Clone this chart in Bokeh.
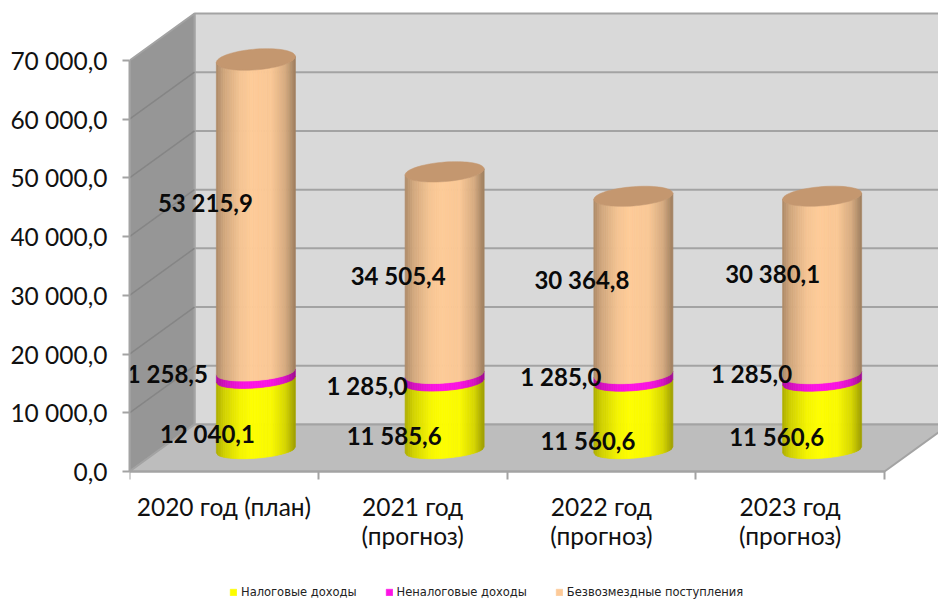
from bokeh.plotting import figure
from bokeh.models import (Range1d, LinearAxis, FixedTicker, Legend, LegendItem, ColumnDataSource)
from bokeh.core.properties import value
from bokeh.embed import file_html
from bokeh.resources import INLINE
import math

# ---- data ----
categories = ["2020 год (план)", "2021 год\n(прогноз)", "2022 год\n(прогноз)", "2023 год\n(прогноз)"]
tax_income = [12040.1, 11585.6, 11560.6, 11560.6]
nontax_income = [1258.5, 1285.0, 1285.0, 1285.0]
grants = [53215.9, 34505.4, 30364.8, 30380.1]
series_names = ["Налоговые доходы", "Неналоговые доходы", "Безвозмездные поступления"]
y_ticks = [0, 10000, 20000, 30000, 40000, 50000, 60000, 70000]
y_tick_labels = ["0,0", "10 000,0", "20 000,0", "30 000,0", "40 000,0", "50 000,0", "60 000,0", "70 000,0"]
tax_labels = ["12 040,1", "11 585,6", "11 560,6", "11 560,6"]
nontax_labels = ["1 258,5", "1 285,0", "1 285,0", "1 285,0"]
grant_labels = ["53 215,9", "34 505,4", "30 364,8", "30 380,1"]

# ---- label nudges (screen px) ----
tax_off = [(-48.5, 19), (-50.5, 19.5), (-45.5, 24), (-45.5, 20)]
nontax_off = [(-88.5, -2), (-77.5, 7), (-72.5, -2), (-70.5, -5)]
grant_off = [(-50.5, -13), (-46.5, 2), (-51.5, -6), (-49.5, -12)]

# ---- layout / projection ----
W, H = 938, 600
LEFT = 129
AXIS_PY = 471            # picture row of value 0
X_PX = 188.75            # px per category
Y_PX = 411 / 70000       # px per value unit
X_END = (W - LEFT) / X_PX
Y_END = AXIS_PY / Y_PX
Y_START = -(H - AXIS_PY) / Y_PX
DX = 65 / X_PX           # depth of the box
DY = 47 / Y_PX
CX = 32 / X_PX           # depth position of the cylinders
CY = 21.5 / Y_PX
RX = 39.5 / X_PX         # cylinder radii
RY_LOW = 8.2 / Y_PX
RY_HIGH = 10.5 / Y_PX
SHEAR = 3 / Y_PX
N = 44

YELLOW, MAGENTA, PEACH = (255, 255, 0), (255, 20, 230), (255, 204, 153)
TOP_PEACH = "#c4976f"
WALL, SIDE, FLOOR = "#d9d9d9", "#969696", "#bdbdbd"
EDGE, SIDE_EDGE = "#a3a3a3", "#858585"

p = figure(width=W, height=H, output_backend="svg", toolbar_location=None,
           x_range=Range1d(0, X_END), y_range=Range1d(Y_START, Y_END),
           min_border_left=LEFT, min_border_bottom=0, min_border_top=0, min_border_right=0,
           x_axis_type=None, y_axis_type=None, outline_line_color=None,
           background_fill_color="white", border_fill_color="white")
p.grid.visible = False

# walls and floor
ymax = y_ticks[-1]
p.patch([DX, X_END + 1, X_END + 1, DX], [DY, DY, DY + ymax, DY + ymax],
        fill_color=WALL, line_color=EDGE, line_width=2)
p.patch([0, DX, DX, 0], [0, DY, DY + ymax, ymax], fill_color=SIDE, line_color=EDGE, line_width=2)
grid = y_ticks[1:-1]
p.segment([DX] * len(grid), [g + DY for g in grid], [X_END + 1] * len(grid), [g + DY for g in grid],
          line_color=EDGE, line_width=2)
p.segment([0] * len(grid), grid, [DX] * len(grid), [g + DY for g in grid],
          line_color=SIDE_EDGE, line_width=1.5)
p.patch([0, DX, 4 + DX, 4], [0, DY, DY, 0], fill_color=FLOOR, line_color=EDGE, line_width=2)


def shade(rgb, u):
    stops = [(0, .68), (.1, .82), (.3, .96), (.45, 1), (.7, .98), (.88, .84), (1, .62)]
    for (a, fa), (b, fb) in zip(stops, stops[1:]):
        if u <= b:
            f = fa + (fb - fa) * (u - a) / (b - a)
            break
    return "#%02x%02x%02x" % tuple(int(c * f) for c in rgb)


def radius_y(level):
    return RY_LOW + (RY_HIGH - RY_LOW) * level / ymax


def arc(u, level):
    c = 2 * u - 1
    return SHEAR * c - radius_y(level) * math.sqrt(max(0, 1 - c * c))


series_values = [tax_income, nontax_income, grants]
series_rgb = [YELLOW, MAGENTA, PEACH]
strips = [dict(xs=[], ys=[], cols=[]) for _ in series_rgb]
top_x, top_y = [], []
for i in range(len(categories)):
    cx = i + 0.5 + CX
    base = 0
    for s, rgb in enumerate(series_rgb):
        val = series_values[s][i]
        lo, hi = base + CY, base + val + CY
        for k in range(N):
            u0, u1 = k / N, (k + 1) / N
            x0, x1 = cx - RX + 2 * RX * u0, cx - RX + 2 * RX * u1
            strips[s]["xs"].append([x0, x1, x1, x0])
            strips[s]["ys"].append([lo + arc(u0, base), lo + arc(u1, base),
                                    hi + arc(u1, base + val), hi + arc(u0, base + val)])
            strips[s]["cols"].append(shade(rgb, (u0 + u1) / 2))
        base += val
    angles = [2 * math.pi * j / 72 for j in range(72)]
    top_x.append([cx + RX * math.cos(a) for a in angles])
    top_y.append([base + CY + SHEAR * math.cos(a) + radius_y(base) * math.sin(a) for a in angles])

series_renderers = [p.patches(d["xs"], d["ys"], fill_color=d["cols"], line_color=d["cols"], line_width=0.7)
                    for d in strips]
p.patches(top_x, top_y, fill_color=TOP_PEACH, line_color=TOP_PEACH, line_width=0.5)

# axes
yax = LinearAxis(ticker=FixedTicker(ticks=y_ticks), bounds=(0, ymax),
                 major_label_overrides=dict(zip(y_ticks, y_tick_labels)))
yax.axis_line_color = EDGE
yax.axis_line_width = 2
yax.major_tick_line_color = EDGE
yax.major_tick_line_width = 2
yax.major_tick_in = 0
yax.major_tick_out = 7
yax.minor_tick_line_color = None
yax.major_label_standoff = 15
yax.major_label_text_font = "Lato"
yax.major_label_text_font_size = "24.5px"
yax.major_label_text_color = "#111111"
p.add_layout(yax, "left")

centers = [i + 0.5 for i in range(len(categories))]
borders = list(range(len(categories) + 1))
xax = LinearAxis(ticker=FixedTicker(ticks=centers, minor_ticks=borders), bounds=(0, len(categories)),
                 major_label_overrides=dict(zip(centers, categories)), fixed_location=0)
xax.axis_line_color = EDGE
xax.axis_line_width = 2
xax.major_tick_line_color = None
xax.major_tick_in = 0
xax.major_tick_out = 8
xax.minor_tick_line_color = EDGE
xax.minor_tick_line_width = 2
xax.minor_tick_in = 0
xax.minor_tick_out = 8
xax.major_label_standoff = 12
xax.major_label_text_font = "Lato"
xax.major_label_text_font_size = "24.5px"
xax.major_label_text_color = "#111111"
xax.major_label_text_line_height = 1.0
xax.major_label_orientation = "horizontal"
p.add_layout(xax, "below")

# data labels
lx, ly, lt, ox, oy = [], [], [], [], []
for i in range(len(categories)):
    cx = i + 0.5 + CX
    base = 0
    for val, txt, off in ((tax_income[i], tax_labels[i], tax_off[i]),
                          (nontax_income[i], nontax_labels[i], nontax_off[i]),
                          (grants[i], grant_labels[i], grant_off[i])):
        lx.append(cx)
        ly.append(base + val / 2 + CY)
        lt.append(txt)
        ox.append(off[0])
        oy.append(off[1])
        base += val
src = ColumnDataSource(dict(x=lx, y=ly, t=lt, ox=ox, oy=oy))
p.text("x", "y", text="t", x_offset="ox", y_offset="oy", source=src, text_align="center",
       text_baseline="middle", text_font=value("Lato"), text_font_style="bold",
       text_font_size="24px", text_color="#0a0a0a")

# legend
swatches = [LegendItem(label=name, renderers=[r], index=N // 2)
            for name, r in zip(series_names, series_renderers)]
legend = Legend(items=swatches, orientation="horizontal", location=(100, 1),
                glyph_width=8, glyph_height=8, label_standoff=4, spacing=28, padding=0, margin=0,
                border_line_color=None, background_fill_alpha=0,
                label_text_font="DejaVu Sans", label_text_font_size="11.5px", label_text_color="#222222",
                label_height=10, label_width=10)
p.add_layout(legend, "center")

open("out.html", "w").write(file_html(p, INLINE))
